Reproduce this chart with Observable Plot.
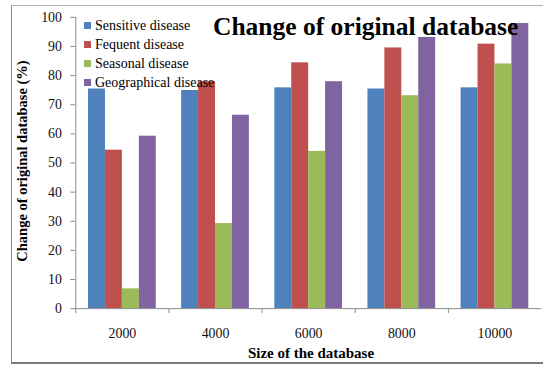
<!DOCTYPE html>
<html><head><meta charset="utf-8">
<script src="https://cdn.jsdelivr.net/npm/d3@7"></script>
<script src="https://cdn.jsdelivr.net/npm/@observablehq/plot@0.6"></script>
<style>
html,body{margin:0;padding:0;width:543px;height:367px;overflow:hidden;background:#fff;}
#wrap{position:relative;width:543px;height:367px;overflow:hidden;font-family:"Liberation Serif","Times New Roman","DejaVu Serif",serif;color:#000;}
#border{position:absolute;left:11px;top:5px;width:620px;height:356px;border-left:1px solid #8c8c8c;border-top:1.5px solid #b0b0b0;border-bottom:2.5px solid #7a7a7a;}
#chart{position:absolute;left:0;top:0;}
#title{position:absolute;left:213px;top:12px;font-size:25.5px;font-weight:bold;white-space:nowrap;}
#ytitle{position:absolute;left:22px;top:161px;transform:translate(-50%,-50%) rotate(-90deg);font-size:14.5px;font-weight:bold;white-space:nowrap;}
#xtitle{position:absolute;left:311px;top:345.5px;line-height:15px;transform:translateX(-50%);font-size:15px;font-weight:bold;white-space:nowrap;}
#legend{position:absolute;left:84px;top:16px;}
.li{display:flex;align-items:center;height:19px;font-size:14px;white-space:nowrap;}
.sw{width:7px;height:7px;margin-right:4px;}
</style></head><body>
<div id="wrap">
  <div id="border"></div>
  <div id="chart"></div>
  <div id="title">Change of original database</div>
  <div id="legend"></div>
  <div id="ytitle">Change of original database (%)</div>
  <div id="xtitle">Size of the database</div>
</div>
<script>
const sizes = ["2000", "4000", "6000", "8000", "10000"];
const seriesNames = ["Sensitive disease", "Fequent disease", "Seasonal disease", "Geographical disease"];
const sensitive = [75.4, 74.9, 75.8, 75.4, 75.8];
const frequent = [54.4, 77.9, 84.4, 89.5, 90.8];
const seasonal = [6.8, 29.2, 54.0, 73.1, 84.0];
const geographical = [59.2, 66.4, 77.9, 93.1, 97.9];
const colors = ["#4F81BD", "#C0504D", "#9BBB59", "#8064A2"];
const yTicks = [0, 10, 20, 30, 40, 50, 60, 70, 80, 90, 100];

const seriesValues = [sensitive, frequent, seasonal, geographical];
const rows = [];
sizes.forEach((s, i) => seriesValues.forEach((vals, j) =>
  rows.push({size: s, series: seriesNames[j], idx: j, value: vals[i]})));

const pad = 0.75;
const chart = Plot.plot({
  width: 548, height: 367,
  marginLeft: 74, marginRight: 0, marginTop: 17, marginBottom: 56,
  fx: {domain: sizes, padding: 0, label: null, axis: null},
  x: {domain: [-pad, seriesNames.length + pad], axis: null, label: null},
  y: {domain: [0, 100], axis: null, label: null},
  color: {domain: seriesNames, range: colors},
  style: {fontFamily: "'Liberation Serif', 'Times New Roman', serif", fontSize: "14px", color: "#000", background: "transparent", overflow: "visible"},
  marks: [
    Plot.rect(rows, {fx: "size", x1: "idx", x2: d => d.idx + 1, y1: 0, y2: "value", fill: "series"}),
    Plot.ruleY([0], {stroke: "#8a8a8a", strokeWidth: 1}),
    Plot.ruleX([{size: sizes[0]}], {fx: "size", x: () => -pad, y1: 0, y2: 100, stroke: "#8a8a8a"}),
    Plot.axisX({ticks: [-pad], tickSize: 5, tickFormat: () => "", label: null, stroke: "#8a8a8a"}),
    Plot.axisFx({anchor: "bottom", tickSize: 0, tickPadding: 20, label: null, fill: "#111"}),
    Plot.axisY({ticks: yTicks, tickSize: 5, tickPadding: 9, label: null, stroke: "#8a8a8a", fill: "#111"})
  ]
});
document.getElementById("chart").appendChild(chart);

const legend = document.getElementById("legend");
seriesNames.forEach((n, i) => {
  const row = document.createElement("div");
  row.className = "li";
  const sw = document.createElement("div");
  sw.className = "sw";
  sw.style.background = colors[i];
  const t = document.createElement("span");
  t.textContent = n;
  row.appendChild(sw); row.appendChild(t);
  legend.appendChild(row);
});
</script>
</body></html>
